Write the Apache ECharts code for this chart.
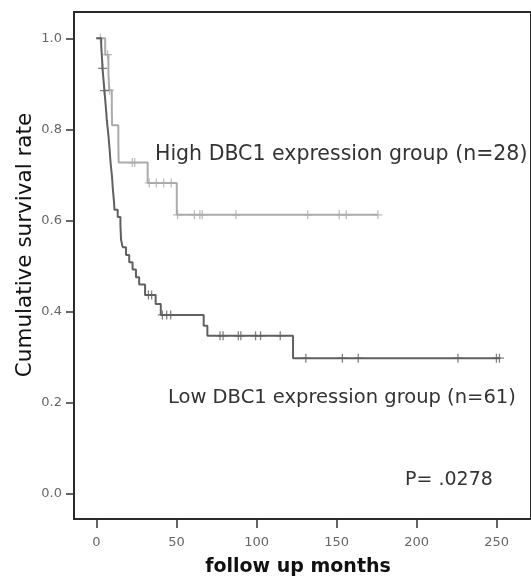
<!DOCTYPE html>
<html><head><meta charset="utf-8">
<script src="https://cdn.jsdelivr.net/npm/echarts@6/dist/echarts.min.js"></script>
<style>html,body{margin:0;padding:0;background:#fff}#c{width:531px;height:578px}</style>
</head><body><div id="c"></div>
<script>
const xTicks = [0, 50, 100, 150, 200, 250];
const yTicks = [0, 0.2, 0.4, 0.6, 0.8, 1.0];

// High DBC1 expression group (n=28): event times and survival after each step
const highTimes = [0, 5.5, 7.5, 8.0, 9.6, 9.8, 13.7, 13.9, 32.0, 50.2, 175.8];
const highSurv  = [1.0, 0.964, 0.926, 0.886, 0.847, 0.809, 0.768, 0.727, 0.682, 0.612, 0.612];
const highCensor = [2.5, 7.0, 8.2, 22.4, 23.9, 33, 37.4, 42, 46.7, 50.7, 61.2, 64.6, 66.1, 87.1, 132, 151.6, 156, 175.8];

// Low DBC1 expression group (n=61)
const lowTimes = [0, 3.0, 3.3, 3.6, 3.8, 4.2, 4.6, 5.0, 5.4, 5.8, 6.2, 6.5, 7.0, 7.5, 7.9, 8.3, 8.6, 9.0, 9.5, 9.9,
  10.2, 10.6, 11.0, 11.3, 13.3, 15.0, 15.2, 15.4, 16.4, 18.5, 20.5, 22.6, 24.7, 26.7, 30.4, 37, 40.2, 67, 69.3, 122.8, 252];
const lowSurv = [1.0, 0.984, 0.967, 0.951, 0.934, 0.918, 0.902, 0.885, 0.869, 0.852, 0.836, 0.820, 0.803, 0.787, 0.770, 0.754, 0.738, 0.721, 0.705, 0.689,
  0.672, 0.656, 0.640, 0.623, 0.607, 0.590, 0.574, 0.557, 0.541, 0.524, 0.508, 0.492, 0.475, 0.459, 0.436, 0.416, 0.392, 0.368, 0.346, 0.297, 0.297];
const lowCensor = [3.9, 5.0, 32.5, 34.5, 41.2, 43.9, 46.4, 77.2, 79.1, 88.6, 90.2, 99.4, 102.5, 114.8, 130.8, 153.6, 163.5, 225.8, 249.8, 251.7];

const highLabel = 'High DBC1 expression group (n=28)';
const lowLabel = 'Low DBC1 expression group (n=61)';
const pLabel = 'P= .0278';

function survAt(times, surv, t) {
  let s = surv[0];
  for (let i = 0; i < times.length; i++) if (times[i] <= t) s = surv[i];
  return s;
}
const plusSym = 'path://M4.3,0H5.7V10H4.3Z M0,4.3H10V5.7H0Z';
const HIGH_C = '#ababab', LOW_C = '#606060';

const chart = echarts.init(document.getElementById('c'), null, {renderer: 'canvas'});
chart.setOption({
  animation: false,
  backgroundColor: '#fff',
  grid: {left: 74, top: 12, right: -6, bottom: 59, show: true, borderColor: '#2a2a2a', borderWidth: 2},
  xAxis: {
    type: 'value', min: -13.99, max: 271.4,
    splitLine: {show: false},
    axisLine: {show: true, onZero: false, lineStyle: {color: '#2a2a2a', width: 2}},
    axisTick: {show: true, length: 9, customValues: xTicks, lineStyle: {color: '#333', width: 1.5}},
    axisLabel: {customValues: xTicks, margin: 17, color: '#666', fontFamily: 'DejaVu Sans', fontSize: 13}
  },
  yAxis: {
    type: 'value', min: -0.0565, max: 1.0578,
    splitLine: {show: false},
    axisLine: {show: true, onZero: false, lineStyle: {color: '#2a2a2a', width: 2}},
    axisTick: {show: true, length: 8, customValues: yTicks, lineStyle: {color: '#333', width: 1.5}},
    axisLabel: {customValues: yTicks, margin: 12, color: '#666', fontFamily: 'DejaVu Sans', fontSize: 13,
      formatter: v => v.toFixed(1)}
  },
  series: [
    {type: 'line', step: 'end', showSymbol: false, silent: true,
      lineStyle: {color: LOW_C, width: 2}, data: lowTimes.map((t, i) => [t, lowSurv[i]]), z: 3},
    {type: 'scatter', symbol: plusSym, symbolSize: 9, silent: true, itemStyle: {color: LOW_C},
      data: lowCensor.map(t => [t, survAt(lowTimes, lowSurv, t)]), z: 3},
    {type: 'line', step: 'end', showSymbol: false, silent: true,
      lineStyle: {color: HIGH_C, width: 2}, data: highTimes.map((t, i) => [t, highSurv[i]]), z: 2},
    {type: 'scatter', symbol: plusSym, symbolSize: 9, silent: true, itemStyle: {color: HIGH_C},
      data: highCensor.map(t => [t, survAt(highTimes, highSurv, t)]), z: 2}
  ],
  graphic: [
    {type: 'text', x: 155, y: 155, style: {text: highLabel, font: '20.5px "DejaVu Sans"', fill: '#333', textVerticalAlign: 'middle'}},
    {type: 'text', x: 168, y: 398, style: {text: lowLabel, font: '19.5px "DejaVu Sans"', fill: '#333', textVerticalAlign: 'middle'}},
    {type: 'text', x: 405, y: 480, style: {text: pLabel, font: '19px "DejaVu Sans"', fill: '#333', textVerticalAlign: 'middle'}},
    {type: 'text', x: 25, y: 245, rotation: Math.PI / 2,
      style: {text: 'Cumulative survival rate', font: '21.5px "DejaVu Sans"', fill: '#111', textAlign: 'center', textVerticalAlign: 'middle'}},
    {type: 'text', x: 298, y: 567,
      style: {text: 'follow up months', font: 'bold 19px "DejaVu Sans"', fill: '#111', textAlign: 'center', textVerticalAlign: 'middle'}}
  ]
});
</script></body></html>
